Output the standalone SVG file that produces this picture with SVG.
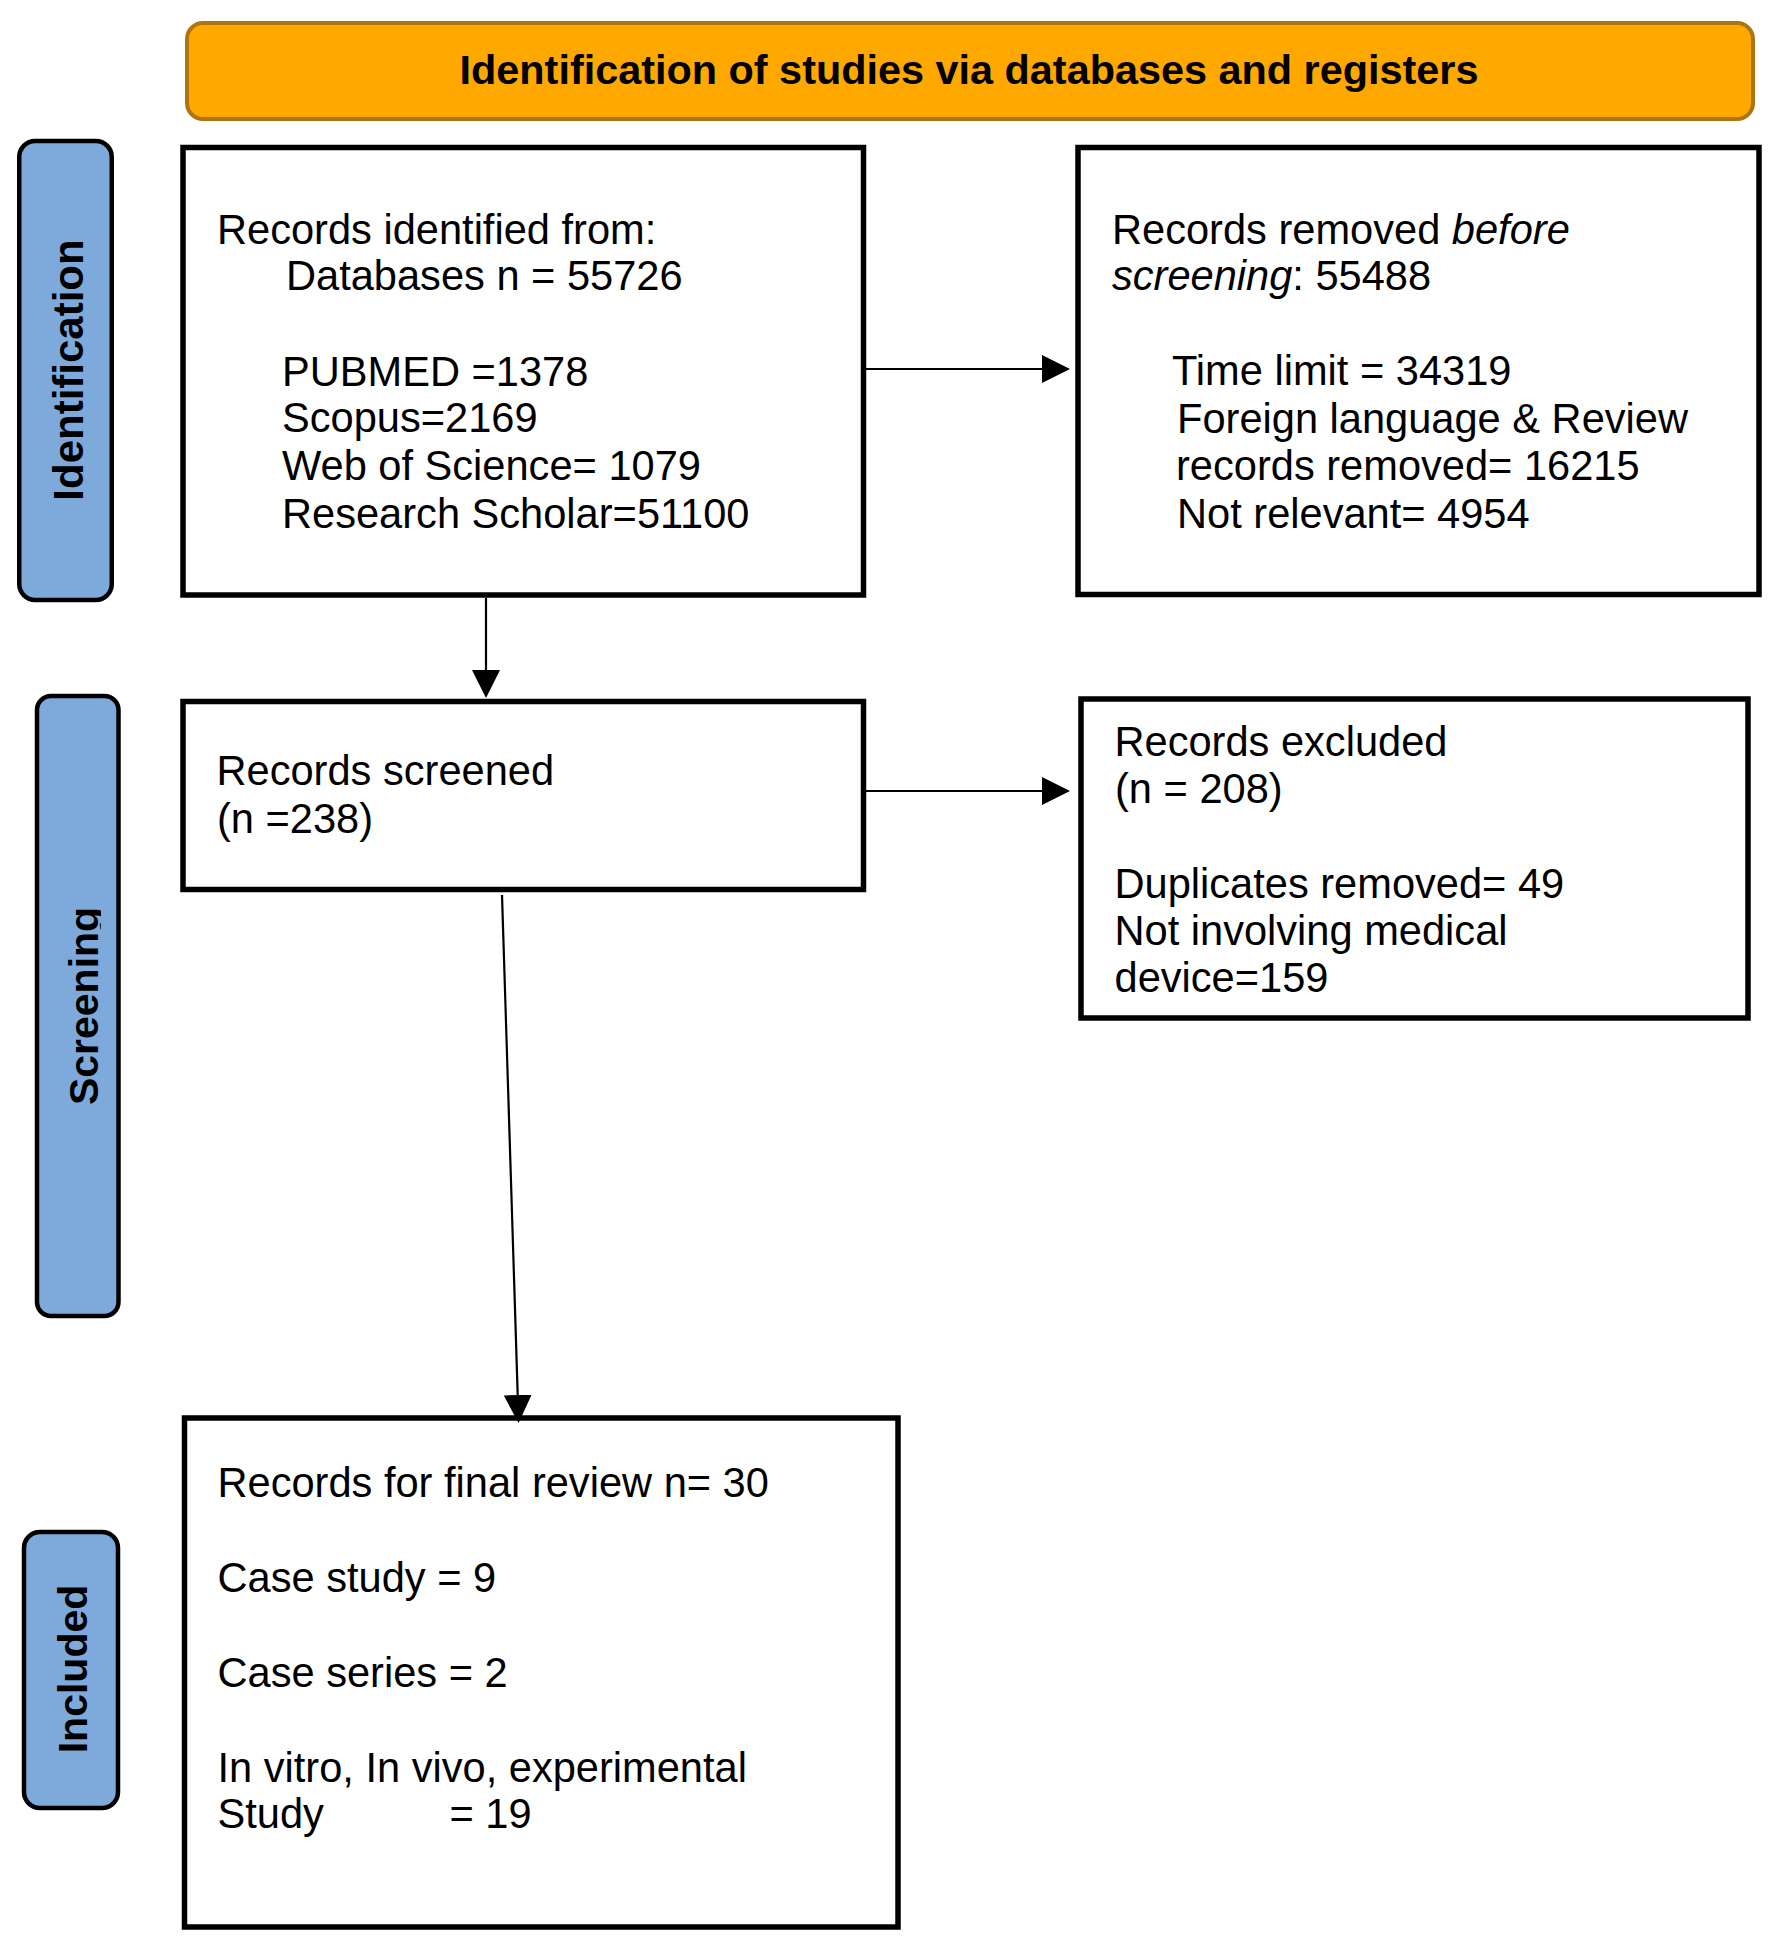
<svg xmlns="http://www.w3.org/2000/svg" width="1772" height="1942" viewBox="0 0 1772 1942">
<style>
.t{font-family:"Liberation Sans",Arial,sans-serif;font-size:41.6px;fill:#000}
.b{font-family:"Liberation Sans",Arial,sans-serif;font-weight:bold;fill:#000}
.box{fill:#fff;stroke:#000;stroke-width:5.5}
.lab{fill:#7EA9DB;stroke:#000;stroke-width:4.5}
.conn{stroke:#000;stroke-width:2.2;fill:none}
</style>
<defs>
<marker id="ah" viewBox="0 0 28 28" refX="0" refY="14" markerWidth="28" markerHeight="28" markerUnits="userSpaceOnUse" orient="auto">
<path d="M0,0 L28,14 L0,28 Z" fill="#000"/>
</marker>
<clipPath id="clipScr"><rect x="0" y="600" width="101" height="800"/></clipPath>
</defs>
<rect width="1772" height="1942" fill="#fff"/>
<g id="banner">
<rect x="187" y="23" width="1566" height="96" rx="16" fill="#FFA800" stroke="#AD7410" stroke-width="4"/>
<text class="b" x="969" y="84" font-size="41.4" text-anchor="middle">Identification of studies via databases and registers</text>
</g>
<g id="label-identification">
<rect class="lab" x="19.25" y="141" width="92.5" height="459" rx="16"/>
<text class="b" font-size="42" text-anchor="middle" transform="translate(83,370) rotate(-90)">Identification</text>
</g>
<g id="label-screening">
<rect class="lab" x="37" y="696" width="81.5" height="620" rx="14"/>
<g clip-path="url(#clipScr)">
<text class="b" font-size="41" text-anchor="middle" transform="translate(98,1006) rotate(-90)">Screening</text>
</g>
</g>
<g id="label-included">
<rect class="lab" x="24" y="1532" width="94" height="276" rx="16"/>
<text class="b" font-size="41" text-anchor="middle" transform="translate(87,1669) rotate(-90)">Included</text>
</g>
<g id="node-identified">
<rect class="box" x="183" y="147.5" width="680.5" height="447.5"/>
<text class="t" x="217" y="243.5">Records identified from:</text>
<text class="t" x="286" y="290">Databases n = 55726</text>
<text class="t" x="282" y="385.5">PUBMED =1378</text>
<text class="t" x="282" y="432">Scopus=2169</text>
<text class="t" x="282" y="479.5">Web of Science= 1079</text>
<text class="t" x="282" y="527.5">Research Scholar=51100</text>
</g>
<g id="node-removed">
<rect class="box" x="1078" y="147.5" width="681" height="447"/>
<text class="t" x="1112" y="244">Records removed <tspan font-style="italic">before</tspan></text>
<text class="t" x="1112" y="290"><tspan font-style="italic">screening</tspan>: 55488</text>
<text class="t" x="1172" y="385">Time limit = 34319</text>
<text class="t" x="1177" y="433">Foreign language &amp; Review</text>
<text class="t" x="1176" y="480">records removed= 16215</text>
<text class="t" x="1177" y="528">Not relevant= 4954</text>
</g>
<g id="node-screened">
<rect class="box" x="183" y="701.5" width="680.5" height="188"/>
<text class="t" x="216.5" y="785">Records screened</text>
<text class="t" x="217" y="833">(n =238)</text>
</g>
<g id="node-excluded">
<rect class="box" x="1081" y="699" width="667" height="319"/>
<text class="t" x="1114.5" y="756">Records excluded</text>
<text class="t" x="1115" y="803">(n = 208)</text>
<text class="t" x="1114.5" y="898">Duplicates removed= 49</text>
<text class="t" x="1114.5" y="945">Not involving medical</text>
<text class="t" x="1114.5" y="992">device=159</text>
</g>
<g id="node-included">
<rect class="box" x="184.5" y="1418" width="713.5" height="509"/>
<text class="t" x="217.5" y="1497">Records for final review n= 30</text>
<text class="t" x="217.5" y="1592">Case study = 9</text>
<text class="t" x="217.5" y="1687">Case series = 2</text>
<text class="t" x="217.5" y="1782">In vitro, In vivo, experimental</text>
<text class="t" x="217.5" y="1828">Study<tspan x="449.5">= 19</tspan></text>
</g>
<g id="connectors">
<line class="conn" x1="866" y1="369" x2="1042" y2="369" marker-end="url(#ah)"/>
<line class="conn" x1="486" y1="598" x2="486" y2="670" marker-end="url(#ah)"/>
<line class="conn" x1="866" y1="791" x2="1042" y2="791" marker-end="url(#ah)"/>
<line class="conn" x1="502" y1="895" x2="517.7" y2="1395" marker-end="url(#ah)"/>
</g>
</svg>
